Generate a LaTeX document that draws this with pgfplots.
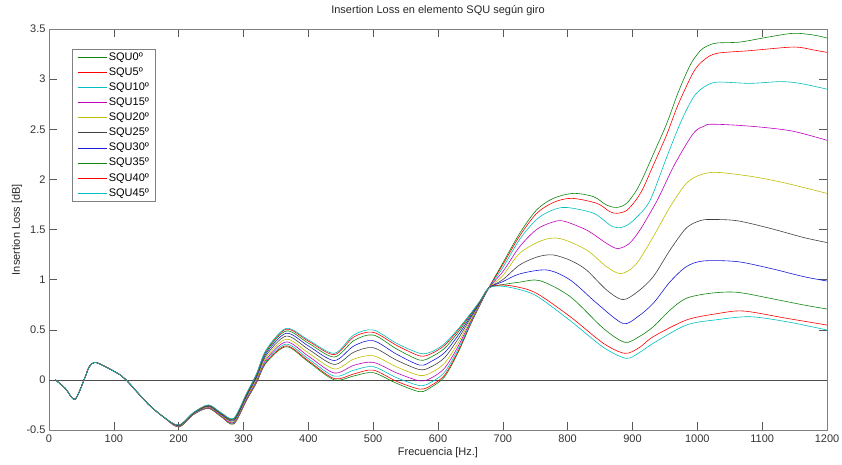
\documentclass[border=0pt]{standalone}
\usepackage{pgfplots}
\pgfplotsset{compat=1.18}
\usepackage{fontspec}
\setmainfont{Liberation Sans}
\definecolor{mg}{rgb}{0.05,0.52,0.05}
\definecolor{mr}{rgb}{1,0,0}
\definecolor{mc}{rgb}{0,0.75,0.75}
\definecolor{mm}{rgb}{0.75,0,0.75}
\definecolor{my}{rgb}{0.75,0.75,0}
\definecolor{mk}{rgb}{0.25,0.25,0.25}
\definecolor{mb}{rgb}{0.1,0.1,0.85}
\begin{document}
\begin{tikzpicture}
\path[use as bounding box] (-49pt,-34pt) rectangle (793pt,430pt);
\begin{axis}[
  at={(0pt,0pt)}, anchor=south west,
  scale only axis, width=778pt, height=401pt,
  xmin=0, xmax=1200, ymin=-0.5, ymax=3.5,
  xtick={0,100,200,300,400,500,600,700,800,900,1000,1100,1200},
  ytick={-0.5,0,0.5,1,1.5,2,2.5,3,3.5},
  tick align=inside, major tick length=8pt,
  axis line style={black!50},
  every tick/.style={black!65, line width=0.5pt},
  font=\fontsize{11}{13}\selectfont,
  tick label style={font=\fontsize{11}{13}\selectfont, text=black!80},
  /pgf/number format/assume math mode=true,
  /pgf/number format/1000 sep={},
  xticklabel style={yshift=-1.5pt},
  title={Insertion Loss en elemento SQU según giro},
  title style={at={(axis description cs:0.5,1.032)}, anchor=center, text=black!85},
  xlabel={Frecuencia [Hz.]},
  x label style={at={(axis description cs:0.5,-0.057)}, anchor=center, text=black!85},
  ylabel={Insertion Loss [dB]},
  y label style={at={(axis description cs:-0.0411,0.5)}, anchor=center, rotate=0, text=black!85},
  legend cell align=left,
  legend image code/.code={\draw[#1] (0pt,0pt) -- (29pt,0pt);},
  legend style={at={(axis description cs:0.0296,0.950)}, anchor=north west,
    draw=black!50, fill=white, inner xsep=5pt, inner ysep=2pt,
    row sep=3.1pt, column sep=1pt,
    nodes={inner sep=1pt, text height=8pt, text depth=2pt, anchor=west},
    font=\fontsize{11}{13}\selectfont},
  every axis plot/.append style={line width=0.6pt, smooth},
]
\addplot[black!70, line width=0.6pt, forget plot, sharp plot] coordinates {(0,0) (1200,0)};
% SQU0
\addplot[mg] coordinates {(10,0.0) (25,-0.084) (40,-0.194) (55,0.016) (62,0.13) (71,0.175) (89,0.125) (110,0.049) (119,0.0) (140,-0.151) (156,-0.26) (176,-0.367)
(200,-0.470) (223,-0.345) (246,-0.284) (266,-0.370) (285,-0.440) (305,-0.200) (320,-0.030) (335,0.170) (366,0.331) (400,0.180) (440,0.000) (470,0.039) (500,0.072) (536,-0.034) (572,-0.118) (590,-0.070) (610,0.030) (630,0.260) (650,0.550) (665,0.750) (678,0.915)
(700,1.166) (726,1.462) (752,1.695) (778,1.811) (809,1.86) (840,1.827) (860,1.744) (876,1.72) (891,1.761) (906,1.89) (917,2.03) (932,2.25) (953,2.56) (970,2.86) (989,3.14) (1004,3.28) (1015,3.33) (1030,3.36) (1066,3.37) (1107,3.417) (1148,3.457) (1179,3.44) (1200,3.41)};
\addlegendentry{SQU0º}
% SQU5
\addplot[mr] coordinates {(10,0.0) (25,-0.084) (40,-0.194) (55,0.016) (62,0.13) (71,0.175) (89,0.125) (110,0.049) (119,0.0) (140,-0.151) (156,-0.26) (176,-0.367)
(200,-0.469) (223,-0.344) (246,-0.282) (266,-0.368) (285,-0.437) (305,-0.197) (320,-0.026) (335,0.177) (366,0.340) (400,0.191) (440,0.013) (470,0.059) (500,0.098) (536,-0.014) (572,-0.092) (590,-0.053) (610,0.047) (630,0.272) (650,0.556) (665,0.752) (678,0.915)
(700,1.15) (726,1.436) (752,1.66) (778,1.77) (806,1.811) (845,1.761) (865,1.678) (876,1.662) (891,1.69) (906,1.80) (917,1.92) (932,2.14) (953,2.45) (970,2.74) (994,3.07) (1010,3.19) (1030,3.257) (1081,3.284) (1138,3.317) (1158,3.317) (1180,3.29) (1200,3.267)};
\addlegendentry{SQU5º}
% SQU10
\addplot[mc] coordinates {(10,0.0) (25,-0.084) (40,-0.194) (55,0.016) (62,0.13) (71,0.175) (89,0.125) (110,0.049) (119,0.0) (140,-0.151) (156,-0.26) (176,-0.367)
(200,-0.467) (223,-0.342) (246,-0.279) (266,-0.364) (285,-0.432) (305,-0.190) (320,-0.017) (335,0.188) (366,0.357) (400,0.211) (440,0.037) (470,0.096) (500,0.132) (536,0.022) (572,-0.057) (590,-0.021) (610,0.076) (630,0.294) (650,0.565) (665,0.756) (678,0.915)
(700,1.12) (726,1.402) (752,1.60) (775,1.69) (798,1.72) (840,1.662) (865,1.545) (877,1.518) (891,1.54) (906,1.62) (927,1.79) (953,2.226) (975,2.58) (994,2.82) (1010,2.92) (1030,2.97) (1081,2.958) (1128,2.975) (1158,2.958) (1200,2.90)};
\addlegendentry{SQU10º}
% SQU15
\addplot[mm] coordinates {(10,0.0) (25,-0.084) (40,-0.194) (55,0.016) (62,0.13) (71,0.175) (89,0.125) (110,0.049) (119,0.0) (140,-0.151) (156,-0.26) (176,-0.367)
(200,-0.465) (223,-0.340) (246,-0.275) (266,-0.360) (285,-0.425) (305,-0.182) (320,-0.007) (335,0.204) (366,0.379) (400,0.237) (440,0.069) (470,0.145) (500,0.175) (536,0.070) (572,-0.010) (590,0.021) (610,0.116) (630,0.322) (650,0.579) (665,0.760) (678,0.915)
(700,1.08) (726,1.329) (752,1.50) (775,1.57) (793,1.585) (829,1.495) (860,1.362) (877,1.31) (895,1.36) (912,1.50) (932,1.72) (942,1.84) (965,2.15) (994,2.46) (1010,2.53) (1020,2.55) (1056,2.542) (1100,2.52) (1148,2.48) (1200,2.39)};
\addlegendentry{SQU15º}
% SQU20
\addplot[my] coordinates {(10,0.0) (25,-0.084) (40,-0.194) (55,0.016) (62,0.13) (71,0.175) (89,0.125) (110,0.049) (119,0.0) (140,-0.151) (156,-0.26) (176,-0.367)
(200,-0.462) (223,-0.337) (246,-0.270) (266,-0.354) (285,-0.417) (305,-0.171) (320,0.007) (335,0.223) (366,0.406) (400,0.269) (440,0.109) (470,0.207) (500,0.241) (536,0.130) (572,0.044) (590,0.074) (610,0.165) (630,0.358) (650,0.595) (665,0.766) (678,0.915)
(700,1.04) (726,1.263) (760,1.39) (788,1.41) (829,1.296) (860,1.129) (882,1.06) (905,1.15) (932,1.428) (958,1.727) (983,1.96) (1004,2.044) (1030,2.07) (1086,2.027) (1138,1.96) (1200,1.86)};
\addlegendentry{SQU20º}
% SQU25
\addplot[mk] coordinates {(10,0.0) (25,-0.084) (40,-0.194) (55,0.016) (62,0.13) (71,0.175) (89,0.125) (110,0.049) (119,0.0) (140,-0.151) (156,-0.26) (176,-0.367)
(200,-0.458) (223,-0.333) (246,-0.264) (266,-0.347) (285,-0.407) (305,-0.159) (320,0.022) (335,0.245) (366,0.437) (400,0.306) (440,0.154) (470,0.276) (500,0.321) (536,0.197) (572,0.102) (590,0.133) (610,0.221) (630,0.399) (650,0.614) (665,0.773) (678,0.915)
(700,1.00) (726,1.147) (755,1.23) (778,1.246) (805,1.19) (829,1.096) (860,0.897) (885,0.80) (908,0.88) (932,1.03) (958,1.296) (983,1.515) (1004,1.588) (1020,1.60) (1061,1.588) (1112,1.512) (1164,1.42) (1200,1.37)};
\addlegendentry{SQU25º}
% SQU30
\addplot[mb] coordinates {(10,0.0) (25,-0.084) (40,-0.194) (55,0.016) (62,0.13) (71,0.175) (89,0.125) (110,0.049) (119,0.0) (140,-0.151) (156,-0.26) (176,-0.367)
(200,-0.455) (223,-0.330) (246,-0.259) (266,-0.341) (285,-0.398) (305,-0.149) (320,0.036) (335,0.265) (366,0.465) (400,0.339) (440,0.193) (470,0.338) (500,0.391) (536,0.257) (572,0.147) (590,0.186) (610,0.271) (630,0.435) (650,0.630) (665,0.779) (678,0.915)
(700,0.98) (726,1.057) (768,1.096) (804,0.996) (845,0.764) (885,0.564) (908,0.63) (932,0.764) (958,0.979) (983,1.129) (1009,1.186) (1061,1.18) (1112,1.113) (1164,1.03) (1200,0.986)};
\addlegendentry{SQU30º}
% SQU35
\addplot[mg] coordinates {(10,0.0) (25,-0.084) (40,-0.194) (55,0.016) (62,0.13) (71,0.175) (89,0.125) (110,0.049) (119,0.0) (140,-0.151) (156,-0.26) (176,-0.367)
(200,-0.453) (223,-0.328) (246,-0.255) (266,-0.336) (285,-0.391) (305,-0.140) (320,0.047) (335,0.282) (366,0.488) (400,0.367) (440,0.228) (470,0.391) (500,0.448) (536,0.309) (572,0.197) (590,0.231) (610,0.314) (630,0.466) (650,0.645) (665,0.784) (678,0.915)
(700,0.95) (726,0.975) (757,0.99) (804,0.83) (855,0.514) (888,0.375) (910,0.43) (932,0.53) (958,0.697) (983,0.814) (1020,0.864) (1061,0.874) (1112,0.814) (1164,0.747) (1200,0.707)};
\addlegendentry{SQU35º}
% SQU40
\addplot[mr] coordinates {(10,0.0) (25,-0.084) (40,-0.194) (55,0.016) (62,0.13) (71,0.175) (89,0.125) (110,0.049) (119,0.0) (140,-0.151) (156,-0.26) (176,-0.367)
(200,-0.451) (223,-0.326) (246,-0.252) (266,-0.332) (285,-0.386) (305,-0.134) (320,0.056) (335,0.294) (366,0.505) (400,0.387) (440,0.252) (470,0.428) (500,0.475) (536,0.345) (572,0.239) (590,0.263) (610,0.344) (630,0.488) (650,0.655) (665,0.788) (678,0.915)
(695,0.946) (720,0.93) (752,0.864) (804,0.63) (855,0.365) (888,0.265) (910,0.32) (932,0.431) (983,0.597) (1030,0.66) (1071,0.687) (1138,0.614) (1200,0.547)};
\addlegendentry{SQU40º}
% SQU45
\addplot[mc] coordinates {(10,0.0) (25,-0.084) (40,-0.194) (55,0.016) (62,0.13) (71,0.175) (89,0.125) (110,0.049) (119,0.0) (140,-0.151) (156,-0.26) (176,-0.367)
(200,-0.450) (223,-0.325) (246,-0.250) (266,-0.330) (285,-0.383) (305,-0.130) (320,0.060) (335,0.300) (366,0.514) (400,0.398) (440,0.265) (470,0.448) (500,0.498) (536,0.365) (572,0.265) (590,0.280) (610,0.360) (630,0.500) (650,0.660) (665,0.790) (678,0.915)
(695,0.936) (720,0.91) (752,0.837) (804,0.59) (855,0.325) (890,0.215) (910,0.27) (932,0.365) (983,0.547) (1030,0.60) (1081,0.63) (1138,0.58) (1200,0.4975)};
\addlegendentry{SQU45º}
\end{axis}
\end{tikzpicture}
\end{document}
